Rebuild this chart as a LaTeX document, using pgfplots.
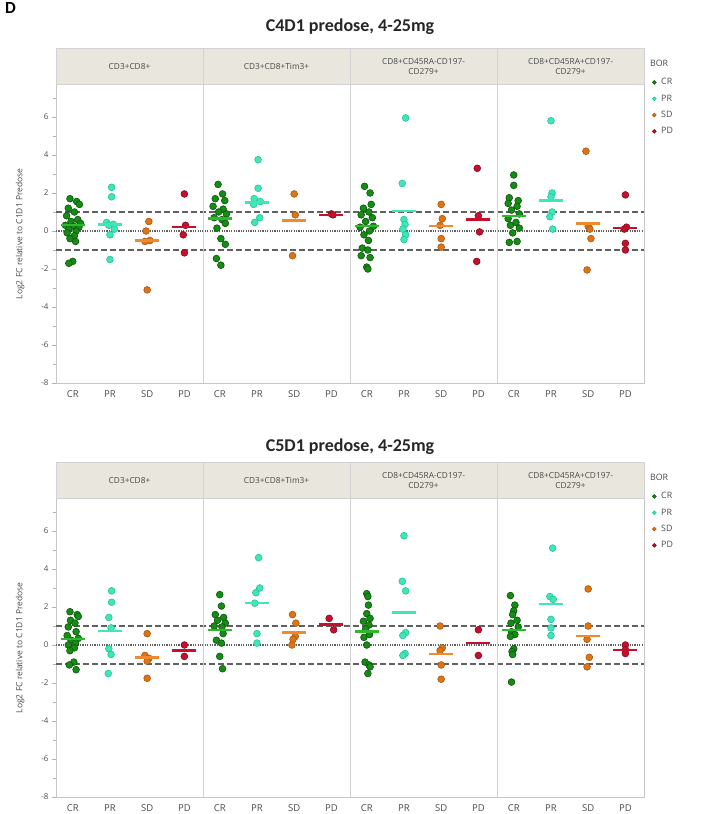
\documentclass[border=0pt]{standalone}
\usepackage{pgfplots}
\pgfplotsset{compat=1.18}
\usepackage{pgfplotstable}
\usepackage{fontspec}
\setmainfont{Open Sans}
\newfontfamily\titlefont{Carlito}
\definecolor{cCR}{HTML}{168C16}
\definecolor{cCRd}{HTML}{0A560A}
\definecolor{cCRm}{HTML}{2DB82D}
\definecolor{cPR}{HTML}{3FE6B8}
\definecolor{cPRd}{HTML}{22C495}
\definecolor{cSD}{HTML}{DE7414}
\definecolor{cSDd}{HTML}{A9560C}
\definecolor{cSDm}{HTML}{F08A2C}
\definecolor{cPD}{HTML}{C70F2C}
\definecolor{cPDd}{HTML}{86091D}
\definecolor{stripc}{HTML}{E9E7DD}
\definecolor{txt}{HTML}{4A4A4A}

% ---------------- C4D1 data (f = facet, j = jitter, y = log2 FC) ----------------
\pgfplotstableread{
f j y
0 -0.05 1.7
0 0.07 1.55
0 0.12 1.4
0 -0.08 1.2
0 0.03 1.0
0 -0.11 0.8
0 0.09 0.6
0 -0.03 0.5
0 0.14 0.4
0 -0.13 0.3
0 0.02 0.25
0 0.11 0.2
0 -0.07 0.1
0 0.06 0.0
0 -0.1 -0.1
0 0.03 -0.25
0 -0.05 -0.4
0 0.05 -0.55
0 0.0 -1.6
0 -0.07 -1.7
1 -0.03 2.45
1 0.05 1.95
1 -0.08 1.7
1 0.09 1.6
1 -0.12 1.3
1 0.06 1.15
1 -0.02 1.0
1 0.12 0.9
1 -0.1 0.7
1 0.04 0.6
1 0.1 0.4
1 -0.05 0.15
1 0.02 -0.4
1 0.1 -0.7
1 -0.06 -1.45
1 0.02 -1.8
2 -0.04 2.35
2 0.06 2.0
2 0.08 1.4
2 -0.06 1.2
2 0.04 1.0
2 -0.1 0.85
2 0.1 0.7
2 -0.02 0.5
2 0.12 0.25
2 -0.12 0.2
2 0.05 0.0
2 -0.05 -0.2
2 0.03 -0.5
2 -0.08 -0.9
2 0.02 -1.0
2 -0.1 -1.3
2 0.06 -1.4
2 0.0 -1.9
2 0.02 -2.0
3 0.0 2.95
3 0.0 2.4
3 -0.08 1.75
3 0.08 1.6
3 -0.1 1.45
3 0.06 1.3
3 -0.04 1.1
3 0.1 0.9
3 -0.1 0.65
3 0.04 0.45
3 -0.06 0.3
3 0.1 0.15
3 -0.02 -0.1
3 0.06 -0.55
3 -0.08 -0.6
}\tCR
\pgfplotstableread{
f j y
0 0.03 2.3
0 0.03 1.8
0 -0.06 0.45
0 0.06 0.35
0 -0.02 0.3
0 0.08 0.1
0 0.0 -0.2
0 0.0 -1.5
1 0.02 3.75
1 0.02 2.25
1 -0.05 1.7
1 0.06 1.55
1 -0.06 1.4
1 0.05 0.7
1 -0.04 0.45
2 0.03 5.95
2 -0.03 2.5
2 0.0 0.6
2 0.02 0.35
2 -0.02 0.1
2 0.03 -0.2
2 0.0 -0.45
3 0.0 5.8
3 0.02 2.0
3 0.0 1.8
3 0.02 1.0
3 -0.02 0.75
3 0.03 0.1
}\tPR
\pgfplotstableread{
f j y
0 0.03 0.5
0 -0.02 0.0
0 0.05 -0.5
0 -0.04 -0.55
0 0.0 -3.1
1 0.0 1.95
1 0.02 0.85
1 -0.03 -1.3
2 0.0 1.4
2 0.02 0.65
2 -0.02 0.3
2 0.0 -0.4
2 0.0 -0.85
3 -0.04 4.2
3 0.0 0.25
3 0.03 0.1
3 0.05 -0.4
3 -0.02 -2.05
}\tSD
\pgfplotstableread{
f j y
0 0.0 1.95
0 0.02 0.3
0 -0.02 -0.2
0 0.0 -1.15
1 0.0 0.9
1 0.03 0.85
2 -0.02 3.3
2 0.0 0.8
2 0.02 -0.05
2 -0.03 -1.6
3 0.0 1.9
3 0.02 0.2
3 -0.02 0.1
3 0.0 -0.65
3 0.0 -1.0
}\tPD
\pgfplotstableread{
f CR PR SD PD
0 0.3 0.35 -0.5 0.2
1 0.65 1.5 0.55 0.85
2 0.25 1.05 0.25 0.6
3 0.8 1.6 0.4 0.15
}\tM

% ---------------- C5D1 data ----------------
\pgfplotstableread{
f j y
0 -0.05 1.75
0 0.08 1.6
0 0.1 1.5
0 -0.04 1.3
0 0.04 1.15
0 -0.08 0.95
0 0.06 0.7
0 -0.1 0.5
0 0.1 0.35
0 -0.03 0.25
0 0.05 0.1
0 -0.08 0.0
0 0.03 -0.15
0 -0.05 -0.3
0 0.02 -0.9
0 -0.06 -1.05
0 0.06 -1.3
1 0.0 2.65
1 0.03 2.05
1 -0.08 1.6
1 0.07 1.45
1 -0.04 1.3
1 0.1 1.15
1 -0.1 1.0
1 0.04 0.95
1 0.06 0.6
1 -0.06 0.25
1 0.03 0.1
1 0.0 -0.6
1 0.05 -1.25
2 0.0 2.7
2 0.02 2.55
2 0.03 2.1
2 0.0 1.65
2 0.06 1.4
2 -0.06 1.25
2 0.04 1.05
2 -0.02 0.85
2 0.05 0.55
2 -0.05 0.4
2 0.0 0.0
2 -0.03 -0.9
2 0.04 -1.05
2 0.06 -1.15
2 0.02 -1.5
3 -0.06 2.6
3 0.02 2.1
3 0.0 1.8
3 -0.02 1.6
3 0.06 1.3
3 -0.05 1.15
3 0.08 0.95
3 -0.04 0.7
3 0.02 0.55
3 -0.06 0.45
3 0.0 -0.2
3 -0.03 -0.35
3 -0.02 -0.5
3 -0.04 -1.95
}\bCR
\pgfplotstableread{
f j y
0 0.03 2.85
0 0.03 2.25
0 -0.02 1.45
0 0.02 0.9
0 -0.02 -0.2
0 0.02 -0.5
0 -0.03 -1.5
1 0.03 4.6
1 0.05 3.0
1 -0.02 2.75
1 -0.04 2.2
1 0.0 0.6
1 0.0 0.1
2 0.0 5.75
2 -0.03 3.35
2 0.03 2.85
2 0.03 0.65
2 -0.02 0.5
2 0.02 -0.45
2 -0.02 -0.55
3 0.03 5.1
3 -0.02 2.55
3 0.04 2.4
3 0.0 1.35
3 0.0 0.9
3 0.0 0.5
}\bPR
\pgfplotstableread{
f j y
0 0.0 0.6
0 -0.04 -0.55
0 0.03 -0.7
0 0.0 -0.85
0 0.0 -1.75
1 -0.03 1.6
1 0.03 1.15
1 0.02 0.45
1 -0.02 0.3
1 -0.04 0.0
2 -0.02 1.0
2 0.02 -0.15
2 -0.02 -0.3
2 0.0 -1.05
2 0.0 -1.8
3 0.0 2.95
3 0.0 1.0
3 -0.02 0.3
3 0.02 -0.65
3 -0.02 -1.15
}\bSD
\pgfplotstableread{
f j y
0 0.0 0.0
0 0.0 -0.6
1 -0.04 1.4
1 0.04 0.8
2 0.0 0.8
2 0.0 -0.55
3 0.0 0.0
3 0.0 -0.25
3 0.0 -0.45
}\bPD
\pgfplotstableread{
f CR PR SD PD
0 0.3 0.75 -0.65 -0.3
1 0.8 2.2 0.65 1.07
2 0.7 1.72 -0.47 0.12
3 0.8 2.15 0.48 -0.25
}\bM

\pgfplotsset{
  panel/.style={
    scale only axis, width=588pt, height=298.3pt,
    xmin=-0.45, xmax=15.35, ymin=-8, ymax=7.7,
    clip=false,
    axis line style={draw=gray!45},
    xtick={0,1,2,3,3.95,4.95,5.95,6.95,7.9,8.9,9.9,10.9,11.85,12.85,13.85,14.85},
    xticklabels={CR,PR,SD,PD,CR,PR,SD,PD,CR,PR,SD,PD,CR,PR,SD,PD},
    xtick style={draw=none},
    ytick={-8,-6,...,6}, minor ytick={-7,-5,...,7},
    ytick pos=left, tick align=outside,
    major tick length=4pt, minor tick length=2.5pt,
    every tick/.style={draw=gray!60},
    /pgf/number format/assume math mode=true,
    yticklabel style={font=\fontsize{8}{9}\selectfont, text=txt},
    xticklabel style={font=\fontsize{9.5}{10}\selectfont, text=txt},
    ylabel={Log2 FC relative to C1D1 Predose},
    ylabel style={font=\fontsize{8.5}{10}\selectfont, text=txt, at={(axis description cs:-0.061,0.5)}, anchor=center},
    legend style={at={(axis description cs:1.014,1.025)}, anchor=north west, draw=none, fill=none,
      font=\fontsize{8.8}{10}\selectfont, text=txt, inner sep=0pt, row sep=6.3pt, column sep=4pt,
      nodes={inner sep=1pt, text height=6.5pt, text depth=1.5pt}},
    legend cell align=left,
    legend image code/.code={\draw[##1] plot coordinates {(4pt,0pt)};},
    legend image post style={mark size=1.9pt},
  },
  pts/.style n args={2}{only marks, mark=*, mark size=3.4pt, mark options={fill=#1, draw=#2, line width=0.6pt}},
  mn/.style={forget plot, only marks, mark=-, mark size=12pt, mark options={line width=2.4pt, draw=#1}},
  refd/.style={forget plot, no marks, draw=gray!75!black, line width=1.2pt, dash pattern=on 5.5pt off 3.5pt},
  refz/.style={forget plot, no marks, draw=gray!75!black, line width=1.5pt, dash pattern=on 1.2pt off 1.2pt},
}

\newcommand{\facetdeco}{%
  \fill[stripc] (rel axis cs:0,1) rectangle (rel axis cs:1,1.124);
  \draw[gray!35] (rel axis cs:0,1) rectangle (rel axis cs:1,1.124);
  \draw[gray!35, line width=0.8pt] (rel axis cs:0.25,0) -- (rel axis cs:0.25,1.124);
  \draw[gray!35, line width=0.8pt] (rel axis cs:0.5,0) -- (rel axis cs:0.5,1.124);
  \draw[gray!35, line width=0.8pt] (rel axis cs:0.75,0) -- (rel axis cs:0.75,1.124);
  \node[font=\fontsize{8.3}{10}\selectfont, text=txt, align=center] at (rel axis cs:0.125,1.062) {CD3+CD8+};
  \node[font=\fontsize{8.3}{10}\selectfont, text=txt, align=center] at (rel axis cs:0.375,1.062) {CD3+CD8+Tim3+};
  \node[font=\fontsize{8.3}{10}\selectfont, text=txt, align=center] at (rel axis cs:0.625,1.062) {CD8+CD45RA-CD197-\\CD279+};
  \node[font=\fontsize{8.3}{10}\selectfont, text=txt, align=center] at (rel axis cs:0.875,1.062) {CD8+CD45RA+CD197-\\CD279+};
  \node[font=\fontsize{8.8}{10}\selectfont, text=txt, anchor=west, inner sep=0pt] at (rel axis cs:1.010,1.071) {BOR};
}

\begin{document}
\begin{tikzpicture}
\useasboundingbox (0pt,0pt) rectangle (703pt,814pt);
\node[font=\titlefont\bfseries\fontsize{17}{18}\selectfont, anchor=north west, inner sep=0pt] at (5pt,812pt) {D};
\node[font=\titlefont\bfseries\fontsize{18}{20}\selectfont, text=black!85] at (350pt,787pt) {C4D1 predose, 4-25mg};
\node[font=\titlefont\bfseries\fontsize{18}{20}\selectfont, text=black!85] at (350pt,367pt) {C5D1 predose, 4-25mg};

% ---------------- Panel C4D1 ----------------
\begin{axis}[panel, at={(56pt,431pt)}, anchor=south west]
\addplot[refd] coordinates {(-0.45,1) (15.35,1)};
\addplot[refd] coordinates {(-0.45,-1) (15.35,-1)};
\addplot[refz] coordinates {(-0.45,0) (15.35,0)};
\addplot[pts={cCR}{cCRd}] table[x expr=\thisrow{f}*3.95+0+1.5*\thisrow{j}, y=y] {\tCR};
\addlegendentry{CR}
\addplot[pts={cPR}{cPRd}] table[x expr=\thisrow{f}*3.95+1+1.5*\thisrow{j}, y=y] {\tPR};
\addlegendentry{PR}
\addplot[pts={cSD}{cSDd}] table[x expr=\thisrow{f}*3.95+2+1.5*\thisrow{j}, y=y] {\tSD};
\addlegendentry{SD}
\addplot[pts={cPD}{cPDd}] table[x expr=\thisrow{f}*3.95+3+1.5*\thisrow{j}, y=y] {\tPD};
\addlegendentry{PD}
\addplot[mn=cCRm] table[x expr=\thisrow{f}*3.95+0, y=CR] {\tM};
\addplot[mn=cPR] table[x expr=\thisrow{f}*3.95+1, y=PR] {\tM};
\addplot[mn=cSDm] table[x expr=\thisrow{f}*3.95+2, y=SD] {\tM};
\addplot[mn=cPD] table[x expr=\thisrow{f}*3.95+3, y=PD] {\tM};
\facetdeco
\end{axis}

% ---------------- Panel C5D1 ----------------
\begin{axis}[panel, at={(56pt,17pt)}, anchor=south west]
\addplot[refd] coordinates {(-0.45,1) (15.35,1)};
\addplot[refd] coordinates {(-0.45,-1) (15.35,-1)};
\addplot[refz] coordinates {(-0.45,0) (15.35,0)};
\addplot[pts={cCR}{cCRd}] table[x expr=\thisrow{f}*3.95+0+1.5*\thisrow{j}, y=y] {\bCR};
\addlegendentry{CR}
\addplot[pts={cPR}{cPRd}] table[x expr=\thisrow{f}*3.95+1+1.5*\thisrow{j}, y=y] {\bPR};
\addlegendentry{PR}
\addplot[pts={cSD}{cSDd}] table[x expr=\thisrow{f}*3.95+2+1.5*\thisrow{j}, y=y] {\bSD};
\addlegendentry{SD}
\addplot[pts={cPD}{cPDd}] table[x expr=\thisrow{f}*3.95+3+1.5*\thisrow{j}, y=y] {\bPD};
\addlegendentry{PD}
\addplot[mn=cCRm] table[x expr=\thisrow{f}*3.95+0, y=CR] {\bM};
\addplot[mn=cPR] table[x expr=\thisrow{f}*3.95+1, y=PR] {\bM};
\addplot[mn=cSDm] table[x expr=\thisrow{f}*3.95+2, y=SD] {\bM};
\addplot[mn=cPD] table[x expr=\thisrow{f}*3.95+3, y=PD] {\bM};
\facetdeco
\end{axis}
\end{tikzpicture}
\end{document}
